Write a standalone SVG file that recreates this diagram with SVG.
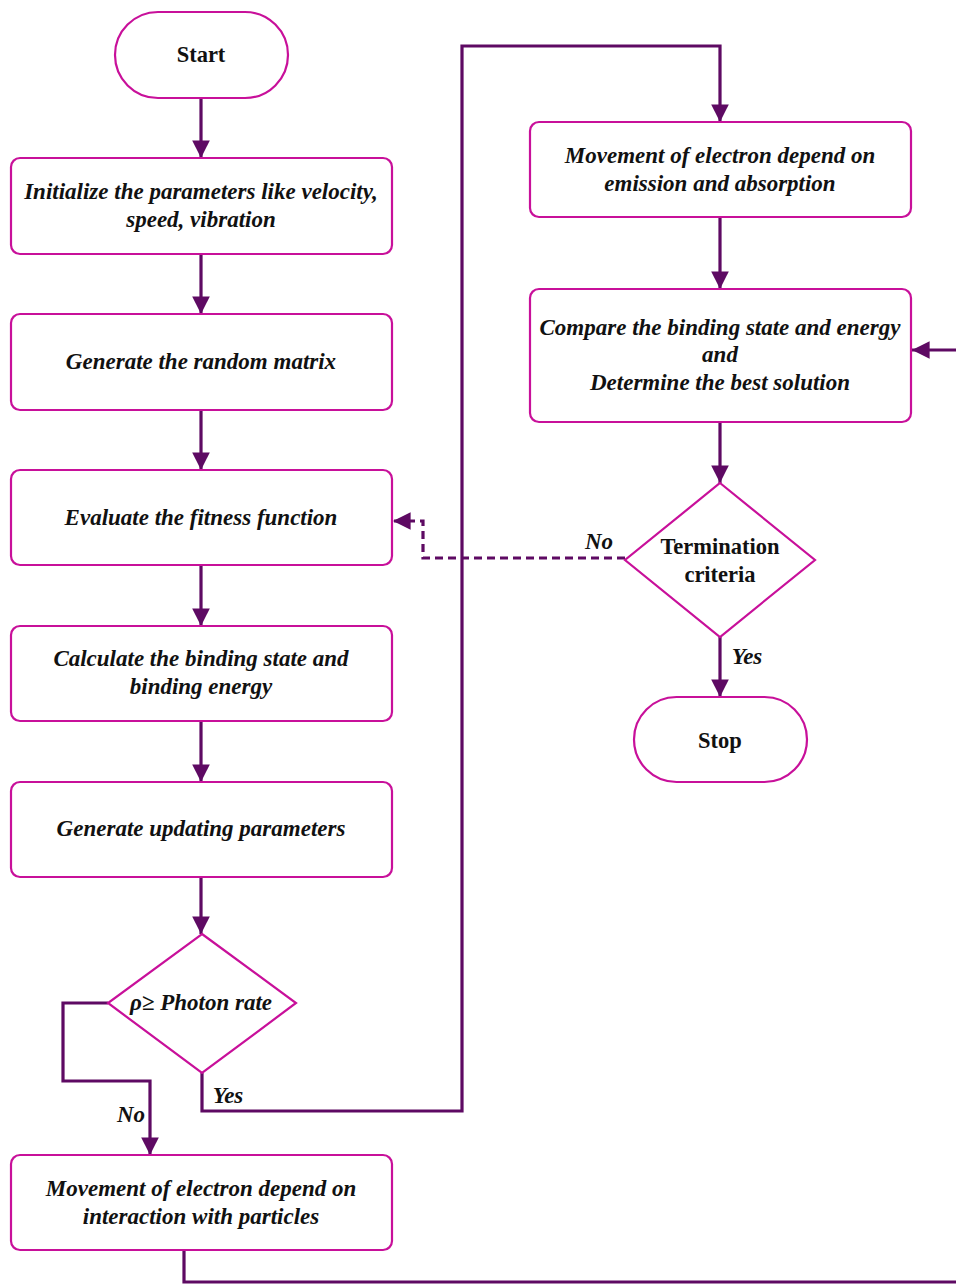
<svg xmlns="http://www.w3.org/2000/svg" width="956" height="1284" viewBox="0 0 956 1284">
<style>
.box{fill:#fff;stroke:#c8109a;stroke-width:2.2}
.t{font-family:"Liberation Serif",serif;font-weight:bold;font-style:italic;font-size:23px;fill:#111;text-anchor:middle}
.tn{font-family:"Liberation Serif",serif;font-weight:bold;font-size:22.5px;fill:#111;text-anchor:middle}
.c{fill:none;stroke:#5e0a63;stroke-width:3.2}
.d{fill:none;stroke:#5e0a63;stroke-width:3.2;stroke-dasharray:8 5}
</style>
<defs>
<marker id="ah" viewBox="0 0 10 10" refX="10" refY="5" markerWidth="5.5" markerHeight="5.5" orient="auto" markerUnits="strokeWidth">
<path d="M0,0 L10,5 L0,10 z" fill="#5e0a63"/>
</marker>
</defs>
<rect width="956" height="1284" fill="#fff"/>
<g id="connectors">
<path class="c" d="M201,98 V158" marker-end="url(#ah)"/>
<path class="c" d="M201,254 V314" marker-end="url(#ah)"/>
<path class="c" d="M201,410 V470" marker-end="url(#ah)"/>
<path class="c" d="M201,565 V626" marker-end="url(#ah)"/>
<path class="c" d="M201,721 V782" marker-end="url(#ah)"/>
<path class="c" d="M201,877 V934" marker-end="url(#ah)"/>
<path class="c" d="M108,1003 H63 V1081 H150 V1155" marker-end="url(#ah)"/>
<path class="c" d="M202,1073 V1111 H462 V46 H720 V122" marker-end="url(#ah)"/>
<path class="c" d="M184,1250 V1282 H960 V350 H912" marker-end="url(#ah)"/>
<path class="c" d="M720,217 V289" marker-end="url(#ah)"/>
<path class="c" d="M720,422 V483" marker-end="url(#ah)"/>
<path class="c" d="M720,637 V697" marker-end="url(#ah)"/>
<path class="d" d="M625,558 H423 V521 H393" marker-end="url(#ah)"/>
<text class="t" x="131" y="1122">No</text>
<text class="t" x="228" y="1103">Yes</text>
<text class="t" x="599" y="549">No</text>
<text class="t" x="747" y="664">Yes</text>
</g>
<g id="start">
<rect class="box" x="115" y="12" width="173" height="86" rx="43"/>
<text class="tn" x="201" y="62">Start</text>
</g>
<g id="init">
<rect class="box" x="11" y="158" width="381" height="96" rx="9"/>
<text class="t" x="201" y="199">Initialize the parameters like velocity,</text>
<text class="t" x="201" y="227">speed, vibration</text>
</g>
<g id="random">
<rect class="box" x="11" y="314" width="381" height="96" rx="9"/>
<text class="t" x="201" y="369">Generate the random matrix</text>
</g>
<g id="fitness">
<rect class="box" x="11" y="470" width="381" height="95" rx="9"/>
<text class="t" x="201" y="525">Evaluate the fitness function</text>
</g>
<g id="binding">
<rect class="box" x="11" y="626" width="381" height="95" rx="9"/>
<text class="t" x="201" y="666">Calculate the binding state and</text>
<text class="t" x="201" y="694">binding energy</text>
</g>
<g id="update">
<rect class="box" x="11" y="782" width="381" height="95" rx="9"/>
<text class="t" x="201" y="836">Generate updating parameters</text>
</g>
<g id="photon">
<polygon class="box" points="202,934 296,1003 202,1073 108,1003"/>
<text class="t" x="201" y="1010">ρ≥ Photon rate</text>
</g>
<g id="interaction">
<rect class="box" x="11" y="1155" width="381" height="95" rx="9"/>
<text class="t" x="201" y="1196">Movement of electron depend on</text>
<text class="t" x="201" y="1224">interaction with particles</text>
</g>
<g id="emission">
<rect class="box" x="530" y="122" width="381" height="95" rx="9"/>
<text class="t" x="720" y="163">Movement of electron depend on</text>
<text class="t" x="720" y="191">emission and absorption</text>
</g>
<g id="compare">
<rect class="box" x="530" y="289" width="381" height="133" rx="9"/>
<text class="t" x="720" y="335">Compare the binding state and energy</text>
<text class="t" x="720" y="362">and</text>
<text class="t" x="720" y="390">Determine the best solution</text>
</g>
<g id="termination">
<polygon class="box" points="720,483 815,560 720,637 625,560"/>
<text class="tn" x="720" y="554">Termination</text>
<text class="tn" x="720" y="582">criteria</text>
</g>
<g id="stop">
<rect class="box" x="634" y="697" width="173" height="85" rx="42.5"/>
<text class="tn" x="720" y="748">Stop</text>
</g>
</svg>
